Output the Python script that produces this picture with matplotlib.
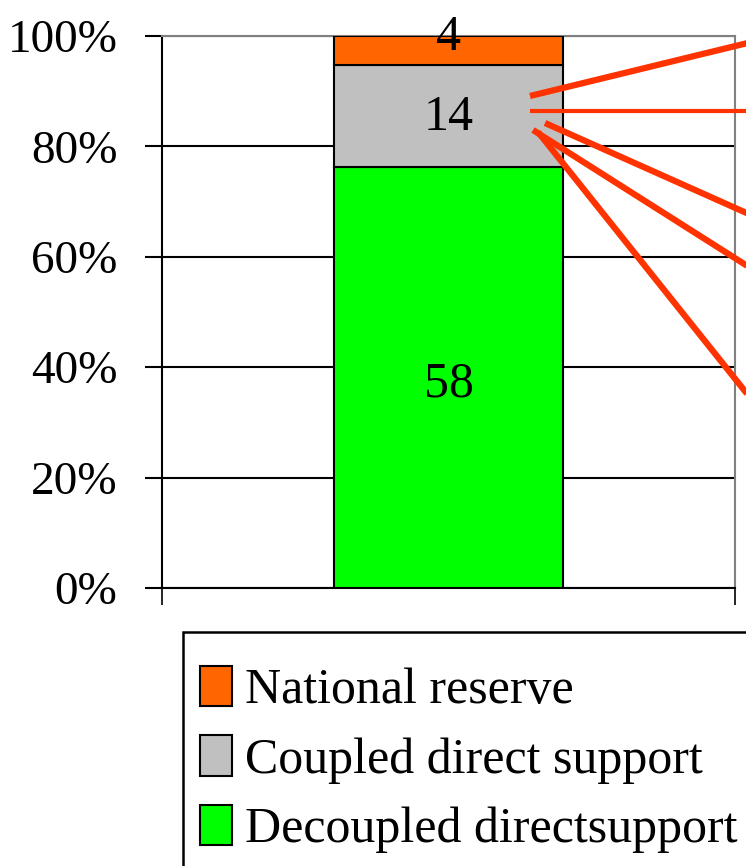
import matplotlib
matplotlib.use("Agg")
import matplotlib.pyplot as plt
from matplotlib.lines import Line2D
from matplotlib.patches import Rectangle

# ---- data ----
series_names = ["Decoupled directsupport", "Coupled direct support", "National reserve"]
series_values = [58, 14, 4]
series_colors = ["#00FF00", "#C0C0C0", "#FF6600"]
label_offsets_pt = [-5, -1, 9]
ytick_values = [0, 20, 40, 60, 80, 100]
ytick_labels = ["0%", "20%", "40%", "60%", "80%", "100%"]

# decorative callout lines (figure pixel coords, from top-left)
callout_lines = [
    ((530, 96), (760, 40), 4.5),
    ((530, 111), (760, 111), 3.0),
    ((545, 123), (760, 219), 4.5),
    ((533, 130), (760, 274), 4.5),
    ((538, 132), (760, 410), 4.5),
]

plt.rcParams["font.family"] = ["Liberation Serif", "DejaVu Serif"]

W, H = 746, 866
fig = plt.figure(figsize=(W / 100, H / 100), dpi=100)
ax = fig.add_axes([162 / W, 1 - 588 / H, (735 - 162) / W, (588 - 36) / H])

total = sum(series_values)
pcts = [v / total * 100 for v in series_values]
bottom = 0
bars = []
for name, p, v, c, off in zip(series_names, pcts, series_values, series_colors, label_offsets_pt):
    b = ax.bar(0, p, width=0.4, bottom=bottom, color=c, edgecolor="black",
               linewidth=1.5, label=name, zorder=3)
    bars.append(b)
    ax.annotate(str(v), (0, bottom + p / 2), xytext=(0, off), textcoords="offset points",
                ha="center", va="center", fontsize=36, zorder=5)
    bottom += p

ax.set_xlim(-0.5, 0.5)
ax.set_ylim(0, 100)
ax.set_yticks(ytick_values)
ax.set_yticklabels(ytick_labels)
ax.set_xticks([-0.5, 0.5])
ax.set_xticklabels([])
ax.tick_params(axis="y", direction="out", length=12, width=1.5, pad=20, labelsize=34, color="black")
ax.tick_params(axis="x", direction="out", length=12, width=1.2, color="black")
ax.yaxis.grid(True, color="black", linewidth=1.5)
ax.set_axisbelow(True)
for s in ["top", "right"]:
    ax.spines[s].set_color("#808080")
    ax.spines[s].set_linewidth(1.5)
for s in ["left", "bottom"]:
    ax.spines[s].set_color("black")
    ax.spines[s].set_linewidth(1.5)

# legend frame (extends beyond the figure edges like the reference)
fig.add_artist(Rectangle((183 / W, 1 - 960 / H), (900 - 183) / W, (960 - 632) / H,
                         transform=fig.transFigure, fill=False, edgecolor="black",
                         linewidth=1.8, zorder=1))

# legend, reversed order (top segment first)
handles = bars[::-1]
labels = series_names[::-1]
leg = fig.legend(handles, labels, loc="upper left",
                 bbox_to_anchor=(200 / W, 1 - 666 / H), bbox_transform=fig.transFigure,
                 fontsize=36, frameon=False,
                 handlelength=0.64, handleheight=0.86, handletextpad=0.26,
                 labelspacing=0.42, borderpad=0, borderaxespad=0)

for (x0, y0), (x1, y1), lw in callout_lines:
    fig.add_artist(Line2D([x0 / W, x1 / W], [1 - y0 / H, 1 - y1 / H],
                          transform=fig.transFigure, color="#FF3300", linewidth=lw,
                          solid_capstyle="butt", zorder=10, clip_on=False))

fig.savefig("out.png", dpi=100)
